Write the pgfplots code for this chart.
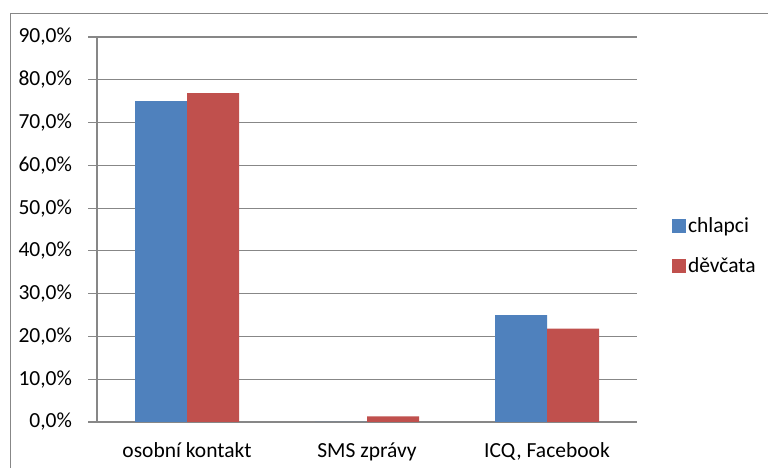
\documentclass[border=0pt]{standalone}
\usepackage{fontspec}
\setmainfont{Carlito}
\usepackage{pgfplots}
\pgfplotsset{compat=1.18}
\definecolor{cblue}{HTML}{4F81BD}
\definecolor{cred}{HTML}{C0504D}
\definecolor{cgrid}{HTML}{878787}
\begin{document}
\begin{tikzpicture}[x=1bp,y=1bp]
\useasboundingbox (0,0) rectangle (768,468);
\fill[white] (0,0) rectangle (768,468);
\draw[cgrid, line width=1bp] (10,-10) -- (10,454) -- (790,454);
\begin{axis}[
  at={(97bp,46bp)}, anchor=south west,
  scale only axis, width=540bp, height=385bp,
  font=\fontsize{21.5bp}{25bp}\selectfont,
  /pgf/number format/assume math mode=true,
  ybar=0pt, bar width=52bp,
  xmin=-0.5, xmax=2.5, ymin=0, ymax=90,
  axis x line=bottom, axis y line=left,
  axis line style={cgrid, line width=1.2bp, -},
  xtick={0,1,2},
  xticklabels={osobní kontakt, SMS zprávy, {ICQ, Facebook}},
  x tick style={draw=none},
  extra x ticks={-0.5,0.5,1.5,2.5},
  extra x tick labels={},
  extra x tick style={major tick length=8bp, tick align=outside, tick style={draw=cgrid, line width=1.2bp}},
  xticklabel style={yshift=-8bp},
  ytick={0,10,...,90},
  yticklabel={\pgfmathprintnumber[fixed,fixed zerofill,precision=1,use comma]{\tick}\%},
  y tick style={draw=cgrid, line width=1.2bp},
  major tick length=9bp, tick align=outside,
  ymajorgrids, grid style={cgrid, line width=1.2bp},
  yticklabel style={xshift=-12.5bp},
  legend style={at={(axis description cs:1.059,0.457)}, anchor=west, draw=none, fill=none,
    font=\fontsize{21.5bp}{25bp}\selectfont, row sep=20bp, cells={anchor=west}},
  legend image code/.code={\fill[#1] (0bp,-7bp) rectangle (14bp,7bp);},
]
\addplot[fill=cblue, draw=none] coordinates {(0,75) (1,0) (2,25)};
\addplot[fill=cred, draw=none] coordinates {(0,76.9) (1,1.3) (2,21.8)};
\legend{chlapci, děvčata}
\end{axis}
\end{tikzpicture}
\end{document}
